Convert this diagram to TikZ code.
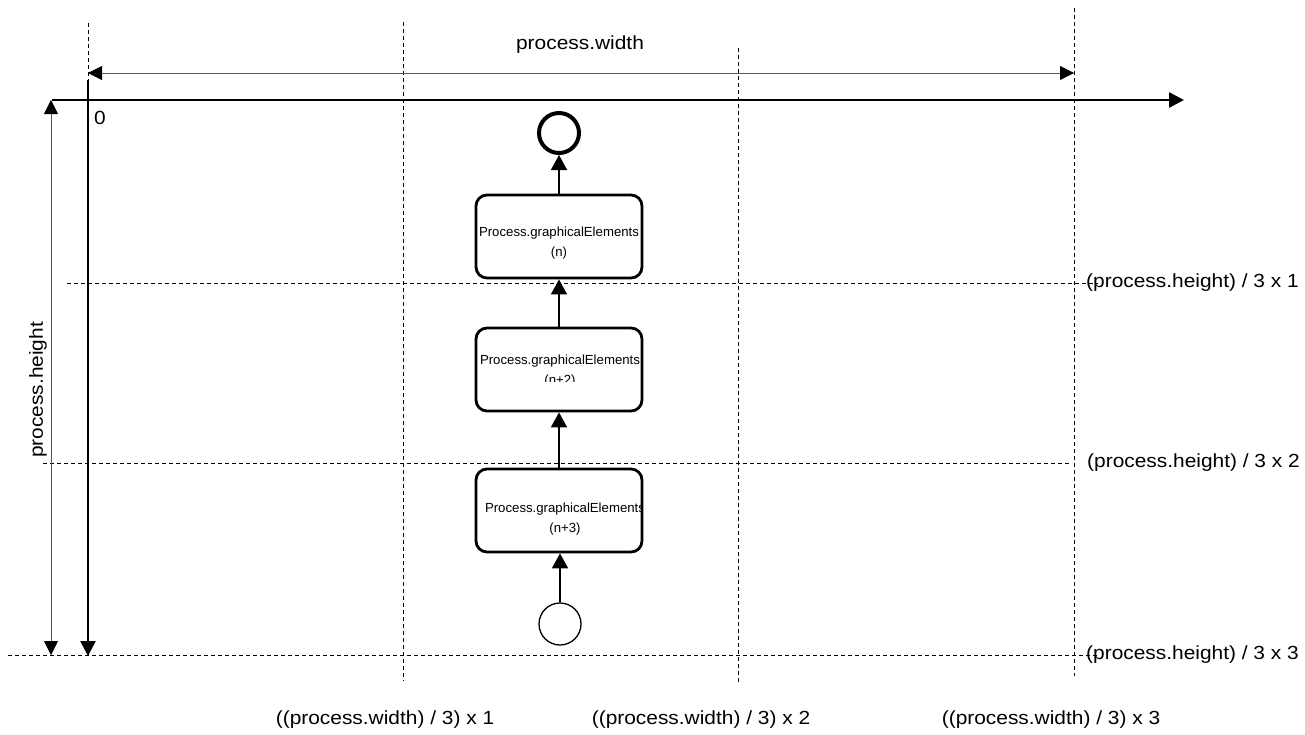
\documentclass[tikz,border=0pt]{standalone}
\usepackage{fontspec}
\setmainfont{Liberation Sans}
\newfontfamily\lblfont[FakeStretch=1.1]{Liberation Sans}
\usetikzlibrary{arrows.meta}
\begin{document}
\begin{tikzpicture}[x=1pt,y=-1pt,
  guide/.style={dash pattern=on 4pt off 3pt, line width=0.9pt},
  axis/.style={line width=2.6pt, -{Triangle[length=15pt,width=15pt]}},
  dim/.style={line width=0.8pt, draw=black!65, {Triangle[length=14pt,width=14pt,color=black]}-{Triangle[length=14pt,width=14pt,color=black]}},
  flow/.style={line width=1.7pt, -{Triangle[length=15pt,width=16pt]}},
  task/.style={draw, line width=2.8pt, rounded corners=11pt, minimum width=166pt, minimum height=83pt, inner sep=0pt},
  tasktxt/.style={align=center, inner sep=0pt, font=\fontsize{13.2}{19.5}\selectfont},
  lbl/.style={font=\lblfont\fontsize{19}{22}\selectfont, inner sep=0pt}]
\useasboundingbox (0,0) rectangle (1305,734);
% guide lines
\coordinate (v0t) at (88,23);   \coordinate (v0b) at (88,655);
\coordinate (v1t) at (403,22);  \coordinate (v1b) at (403,681);
\coordinate (v2t) at (738,48);  \coordinate (v2b) at (738,683);
\coordinate (v3t) at (1074,8);  \coordinate (v3b) at (1074,676);
\draw[guide] (v0t) -- (v0b);
\draw[guide] (v1t) -- (v1b);
\draw[guide] (v2t) -- (v2b);
\draw[guide] (v3t) -- (v3b);
\coordinate (h1l) at (67,283);  \coordinate (h1r) at (1098,283);
\coordinate (h2l) at (43,463);  \coordinate (h2r) at (1070,463);
\coordinate (h3l) at (8,655);   \coordinate (h3r) at (1098,655);
\draw[guide] (h1l) -- (h1r);
\draw[guide] (h2l) -- (h2r);
\draw[guide] (h3l) -- (h3r);
% axes
\coordinate (xa) at (52,100); \coordinate (xb) at (1184,100);
\coordinate (ya) at (88,80);  \coordinate (yb) at (88,656);
\draw[axis] (xa) -- (xb);
\draw[axis] (ya) -- (yb);
% dimension arrows
\coordinate (wa) at (88,73); \coordinate (wb) at (1074,73);
\draw[dim] (wa) -- (wb);
\coordinate (ha) at (51,100); \coordinate (hb) at (51,655);
\draw[dim] (ha) -- (hb);
% labels
\node[lbl] (wlbl) at (580,45) {process.width};
\node[lbl, rotate=90] (hlbl) at (38,390) {process.height};
\node[lbl, anchor=west] (zero) at (94,118) {0};
\node[lbl, anchor=west] (l1) at (1086,283) {(process.height) / 3 x 1};
\node[lbl, anchor=west] (l2) at (1087,463) {(process.height) / 3 x 2};
\node[lbl, anchor=west] (l3) at (1086,655) {(process.height) / 3 x 3};
\node[lbl] (b1) at (385,720) {((process.width) / 3) x 1};
\node[lbl] (b2) at (701,720) {((process.width) / 3) x 2};
\node[lbl] (b3) at (1051,720) {((process.width) / 3) x 3};
% process elements
\node[draw, circle, line width=4pt, minimum size=40pt, inner sep=0pt] (endev) at (559,133) {};
\node[task] (tn) at (559,236.5) {};
\node[tasktxt] (tntxt) at (559,243) {Process.graphicalElements\\(n)};
\node[task] (tn2) at (559,369.5) {};
\begin{scope}
  \clip (476,330) rectangle (642,381);
  \node[tasktxt] (tn2txt) at (560,371) {Process.graphicalElements\\(n+2)};
\end{scope}
\node[task] (tn3) at (559,510.5) {};
\begin{scope}
  \clip (478,470) rectangle (642,551);
  \node[tasktxt] (tn3txt) at (565,519) {Process.graphicalElements\\(n+3)};
\end{scope}
\node[draw, circle, line width=1.3pt, minimum size=42pt, inner sep=0pt] (startev) at (560,624) {};
% flows
\draw[flow] (startev.north) -- (startev.north |- tn3.south);
\draw[flow] (tn3.north) -- (tn2.south);
\draw[flow] (tn2.north) -- (tn.south);
\draw[flow] (tn.north) -- (endev.south);
\end{tikzpicture}
\end{document}
